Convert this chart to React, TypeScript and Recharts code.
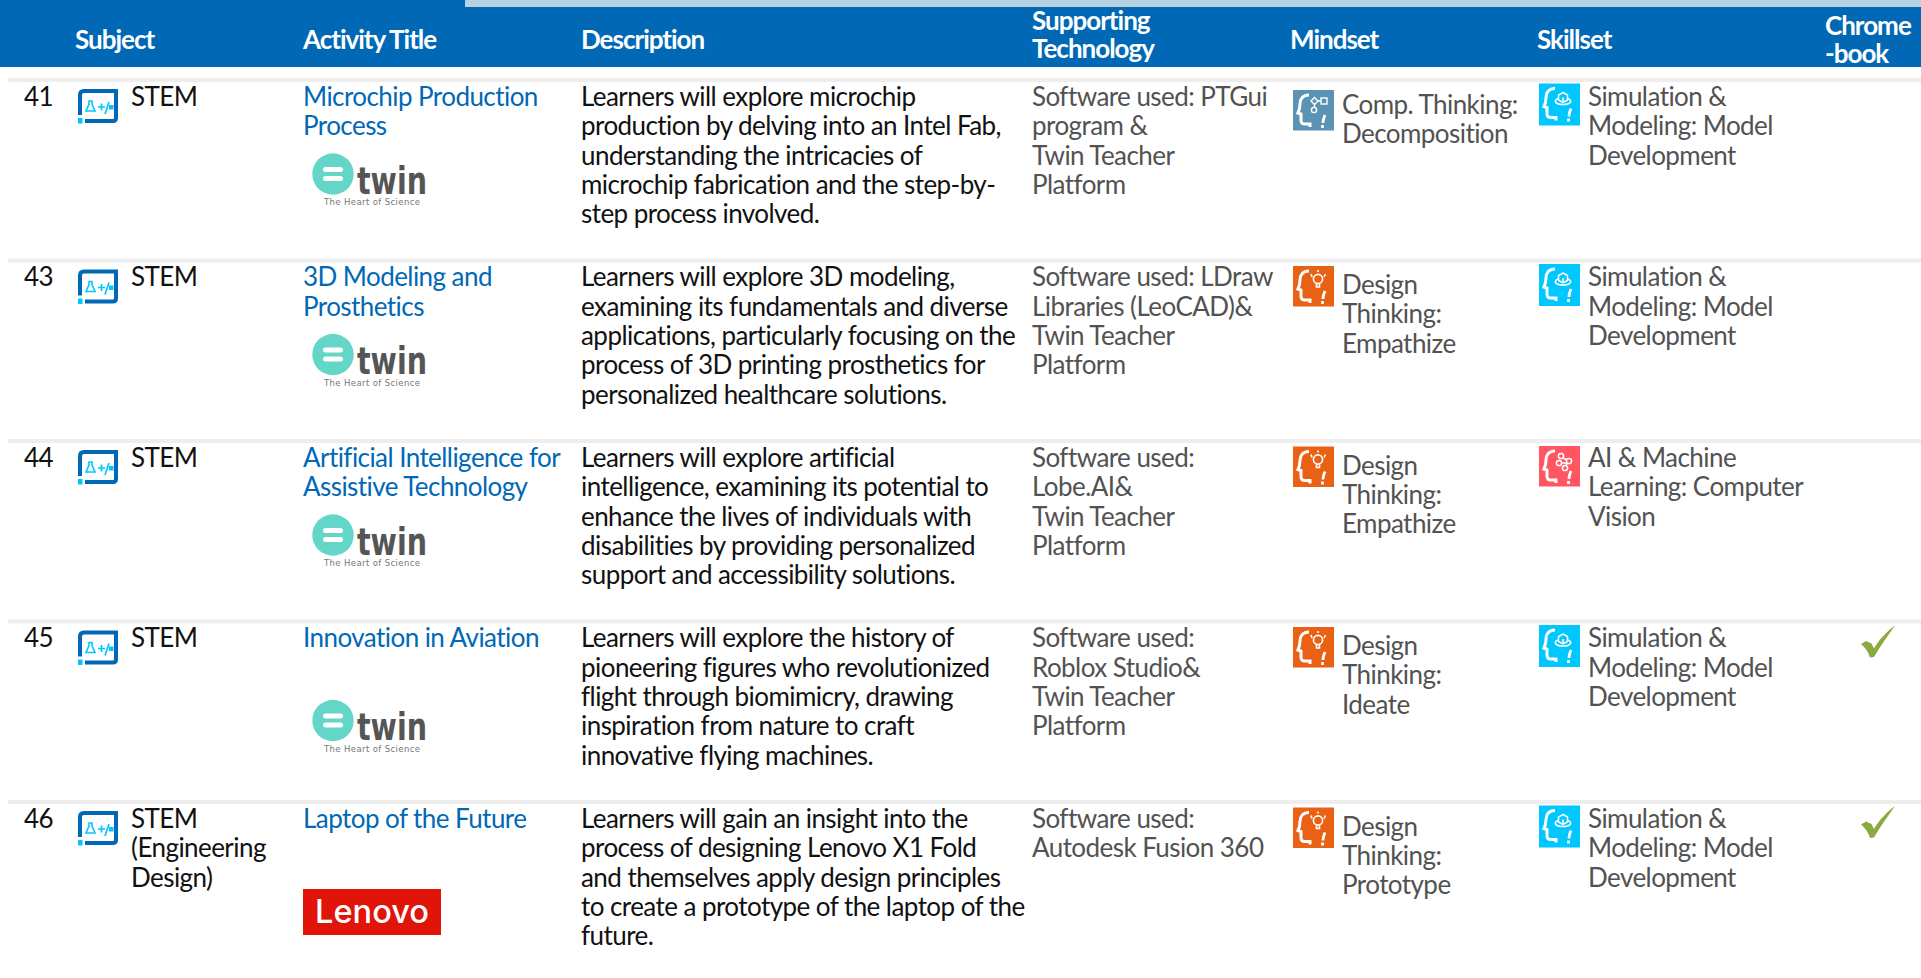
import React from "react";
import { ScatterChart, Scatter, XAxis, YAxis, ReferenceArea, ReferenceLine } from "recharts";

// ---------- data ----------
const rowIds = ["41", "43", "44", "45", "46"];
const subjects = [["STEM"], ["STEM"], ["STEM"], ["STEM"], ["STEM", "(Engineering", "Design)"]];
const titles = [
  ["Microchip Production", "Process"],
  ["3D Modeling and", "Prosthetics"],
  ["Artificial Intelligence for", "Assistive Technology"],
  ["Innovation in Aviation"],
  ["Laptop of the Future"],
];
const partners = ["twin", "twin", "twin", "twin", "lenovo"];
const descriptions = [
  ["Learners will explore microchip", "production by delving into an Intel Fab,", "understanding the intricacies of", "microchip fabrication and the step-by-", "step process involved."],
  ["Learners will explore 3D modeling,", "examining its fundamentals and diverse", "applications, particularly focusing on the", "process of 3D printing prosthetics for", "personalized healthcare solutions."],
  ["Learners will explore artificial", "intelligence, examining its potential to", "enhance the lives of individuals with", "disabilities by providing personalized", "support and accessibility solutions."],
  ["Learners will explore the history of", "pioneering figures who revolutionized", "flight through biomimicry, drawing", "inspiration from nature to craft", "innovative flying machines."],
  ["Learners will gain an insight into the", "process of designing Lenovo X1 Fold", "and themselves apply design principles", "to create a prototype of the laptop of the", "future."],
];
const technology = [
  ["Software used: PTGui", "program &", "Twin Teacher", "Platform"],
  ["Software used: LDraw", "Libraries (LeoCAD)&", "Twin Teacher", "Platform"],
  ["Software used:", "Lobe.AI&", "Twin Teacher", "Platform"],
  ["Software used:", "Roblox Studio&", "Twin Teacher", "Platform"],
  ["Software used:", "Autodesk Fusion 360"],
];
const mindsets = [
  ["Comp. Thinking:", "Decomposition"],
  ["Design", "Thinking:", "Empathize"],
  ["Design", "Thinking:", "Empathize"],
  ["Design", "Thinking:", "Ideate"],
  ["Design", "Thinking:", "Prototype"],
];
const mindsetKinds = ["comp", "design", "design", "design", "design"];
const skillsets = [
  ["Simulation &", "Modeling: Model", "Development"],
  ["Simulation &", "Modeling: Model", "Development"],
  ["AI & Machine", "Learning: Computer", "Vision"],
  ["Simulation &", "Modeling: Model", "Development"],
  ["Simulation &", "Modeling: Model", "Development"],
];
const skillKinds = ["sim", "sim", "ai", "sim", "sim"];
const chromebook = [false, false, false, true, true];
const headerLabels = [
  ["Subject"], ["Activity Title"], ["Description"], ["Supporting", "Technology"], ["Mindset"], ["Skillset"], ["Chrome", "-book"],
];

// ---------- layout ----------
const W = 1921;
const H = 978;
const FONT = "Lato, 'Open Sans', sans-serif";
const PITCH = 180.5;
const TOP = 80;
const yMin = -TOP / PITCH;
const yMax = (H - TOP) / PITCH;
const px = (v: number) => v / PITCH;
const LH = 29.4;
const FS = 26;
const LS = -0.56;
const DY = 25.7;
const BLUE = "#0068b5";
const GREY = "#525252";
const INK = "#111111";

const X = { id: 24, stem: 78, subject: 131, title: 303, desc: 581, tech: 1032, mindIcon: 1293, mind: 1342, skillIcon: 1539, skill: 1588, check: 1861, logo: 303 };
const headerX = [75, 303, 581, 1032, 1290, 1537, 1825];
const headerBase = [49, 49, 49, 30, 49, 49, 35];

const rows = rowIds.map((id, i) => ({ row: i, id }));

const Lines = ({ x, y, lines, fill, size = FS, weight = 400, lh = LH, ls = LS }: any) => (
  <text x={x} y={y} fill={fill} fontFamily={FONT} fontSize={size} fontWeight={weight} letterSpacing={ls}>
    {lines.map((l: string, i: number) => (
      <tspan key={i} x={x} y={y + i * lh}>{l}</tspan>
    ))}
  </text>
);

const StemIcon = ({ x, y }: any) => (
  <g>
    <path d={`M${x + 2} ${y + 26}V${y + 6}q0-4 4-4H${x + 38}V${y + 29}q0 3-3 3H${x + 7}`} fill="none" stroke={BLUE} strokeWidth={4} />
    <rect x={x} y={y + 29} width={4.5} height={5.5} fill="#00c7fd" />
    <path d={`M${x + 11} ${y + 12}h3v3l3 7h-9l3-7z`} fill="none" stroke="#00c7fd" strokeWidth={1.6} />
    <path d={`M${x + 20} ${y + 18}h7M${x + 23.5} ${y + 14.5}v7M${x + 27} ${y + 25}l4-12`} stroke="#00c7fd" strokeWidth={1.7} fill="none" />
    <rect x={x + 31} y={y + 16} width={4.5} height={4.5} fill="#00c7fd" />
  </g>
);

const HeadIcon = ({ x, y, w, h, color, kind }: any) => (
  <g>
    <rect x={x} y={y} width={w} height={h} fill={color} />
    <path
      d={`M${x + 16} ${y + 5}c-6 0-9 4-9 9 0 3 0 5-2 9l3 1 0 6c0 3 1 4 4 4h5v3`}
      fill="none" stroke="#fff" strokeWidth={3}
    />
    <path d={`M${x + 32} ${y + 25}c-1 3-2 4-2 8M${x + 29.5} ${y + 35}v3`} stroke="#fff" strokeWidth={2.8} fill="none" />
    {kind === "comp" && (
      <g fill="none" stroke="#fff" strokeWidth={1.4}>
        <path d={`M${x + 18} ${y + 11}l3.5-3.5 3.5 3.5-3.5 3.5z`} />
        <rect x={x + 28} y={y + 8} width={6} height={6} />
        <circle cx={x + 21} cy={y + 20} r={2.6} />
        <path d={`M${x + 25} ${y + 11}h3M${x + 21.5} ${y + 14.5}v3`} />
      </g>
    )}
    {kind === "design" && (
      <g fill="none" stroke="#fff" strokeWidth={1.6}>
        <circle cx={x + 25} cy={y + 13} r={4.6} />
        <path d={`M${x + 23.5} ${y + 18}v3h3v-3M${x + 18} ${y + 8}l1 3M${x + 32.5} ${y + 8}l-1.5 3M${x + 25} ${y + 4}v2`} />
      </g>
    )}
    {kind === "sim" && (
      <g fill="none" stroke="#fff" strokeWidth={1.5}>
        <path d={`M${x + 24} ${y + 9}l4.5 2.5v5l-4.5 2.5-4.5-2.5v-5z`} />
        <path d={`M${x + 24} ${y + 14}v5M${x + 19} ${y + 15}c-5 2-3 6 5 6s10-4 5-6`} />
      </g>
    )}
    {kind === "ai" && (
      <g fill="none" stroke="#fff" strokeWidth={1.5}>
        <circle cx={x + 22} cy={y + 10} r={2.6} />
        <circle cx={x + 30} cy={y + 15} r={2.6} />
        <circle cx={x + 20} cy={y + 17} r={2.6} />
        <circle cx={x + 26} cy={y + 22} r={2.6} />
        <path d={`M${x + 24} ${y + 12}l4 2M${x + 22.5} ${y + 17}h5M${x + 28} ${y + 17}l-1 3`} />
      </g>
    )}
  </g>
);

const mindColors: any = { comp: "#5b93b5", design: "#e96115" };
const skillColors: any = { sim: "#00c7fd", ai: "#ff5662" };

const TwinLogo = ({ x, y }: any) => (
  <g>
    <circle cx={x + 30} cy={y} r={20.7} fill="#63d6c8" />
    <rect x={x + 20} y={y - 7} width={20} height={5} rx={2.5} fill="#fff" />
    <rect x={x + 20} y={y + 2} width={20} height={5} rx={2.5} fill="#fff" />
    <text x={x + 54} y={y + 19.5} fontFamily="'DejaVu Sans', sans-serif" fontWeight={700} fontSize={37} fill="#555" textLength={70} lengthAdjust="spacingAndGlyphs">twin</text>
    <text x={x + 21} y={y + 31} fontFamily="'DejaVu Sans', sans-serif" fontSize={8.5} fill="#777" textLength={96} lengthAdjust="spacing">The Heart of Science</text>
  </g>
);

const LenovoLogo = ({ x, y }: any) => (
  <g>
    <rect x={x} y={y} width={138} height={46} fill="#e1140a" />
    <text x={x + 69} y={y + 34} textAnchor="middle" fontFamily="Inter, sans-serif" fontWeight={500} fontSize={33} fill="#fff" textLength={114} lengthAdjust="spacingAndGlyphs">Lenovo</text>
  </g>
);

const colData = (x: number) => rows.map((r) => ({ ...r, col: x }));

const textShape = (get: (i: number) => string[], fill: string, dy: number) => (p: any) => (
  <Lines x={p.cx} y={p.cy + dy} lines={get(p.payload.row)} fill={fill} />
);

const headerRows = headerLabels.map((lines, i) => ({ col: headerX[i], row: px(headerBase[i] - TOP), lines }));

export default function App() {
  return (
    <div style={{ position: "absolute", left: 0, top: 0, width: W, height: H, background: "#fff" }}>
      <ScatterChart width={W} height={H} margin={{ top: 0, right: 0, bottom: 0, left: 0 }}>
        <XAxis type="number" dataKey="col" domain={[0, W]} hide allowDataOverflow />
        <YAxis type="number" dataKey="row" domain={[yMin, yMax]} reversed hide allowDataOverflow width={0} />
        <ReferenceArea x1={0} x2={W} y1={yMin} y2={yMin + px(67)} fill={BLUE} fillOpacity={1} stroke="none" />
        <ReferenceArea x1={465} x2={W} y1={yMin} y2={yMin + px(7)} fill="#b7d3e3" fillOpacity={1} stroke="none" />
        {rowIds.map((id, i) => (
          <ReferenceLine key={id} segment={[{ x: 8, y: i }, { x: W, y: i }]} stroke="#eeeeee" strokeWidth={4} />
        ))}
        <Scatter data={headerRows} isAnimationActive={false}
          shape={(p: any) => <Lines x={p.cx} y={p.cy} lines={p.payload.lines} fill="#fff" weight={700} lh={28} ls={-1} />} />
        <Scatter data={colData(X.id)} isAnimationActive={false} shape={textShape((i) => [rowIds[i]], INK, DY)} />
        <Scatter data={colData(X.stem)} isAnimationActive={false} shape={(p: any) => <StemIcon x={p.cx} y={p.cy + 9} />} />
        <Scatter data={colData(X.subject)} isAnimationActive={false} shape={textShape((i) => subjects[i], INK, DY)} />
        <Scatter data={colData(X.title)} isAnimationActive={false} shape={textShape((i) => titles[i], BLUE, DY)} />
        <Scatter data={colData(X.logo)} isAnimationActive={false}
          shape={(p: any) => {
            const r = p.payload.row;
            if (partners[r] === "lenovo") return <LenovoLogo x={p.cx} y={p.cy + 87} />;
            return <TwinLogo x={p.cx} y={p.cy + (r === 3 ? 99 : 94)} />;
          }} />
        <Scatter data={colData(X.desc)} isAnimationActive={false} shape={textShape((i) => descriptions[i], INK, DY)} />
        <Scatter data={colData(X.tech)} isAnimationActive={false} shape={textShape((i) => technology[i], GREY, DY)} />
        <Scatter data={colData(X.mindIcon)} isAnimationActive={false}
          shape={(p: any) => {
            const k = mindsetKinds[p.payload.row];
            return <HeadIcon x={p.cx} y={p.cy + (k === "comp" ? 10 : 5.5)} w={41} h={40.5} color={mindColors[k]} kind={k} />;
          }} />
        <Scatter data={colData(X.mind)} isAnimationActive={false}
          shape={(p: any) => <Lines x={p.cx} y={p.cy + 33.5} lines={mindsets[p.payload.row]} fill={GREY} />} />
        <Scatter data={colData(X.skillIcon)} isAnimationActive={false}
          shape={(p: any) => {
            const k = skillKinds[p.payload.row];
            return <HeadIcon x={p.cx} y={p.cy + (k === "ai" ? 5 : 3.5)} w={41} h={k === "ai" ? 40.5 : 42} color={skillColors[k]} kind={k} />;
          }} />
        <Scatter data={colData(X.skill)} isAnimationActive={false} shape={textShape((i) => skillsets[i], GREY, DY)} />
        <Scatter data={colData(X.check).filter((r) => chromebook[r.row])} isAnimationActive={false}
          shape={(p: any) => (
            <path transform={`translate(${p.cx} ${p.cy})`} d="M0 22.5L5 19.5L10.5 22L13 27C18 18 26 10 34 4C27 14 19 25 13 35.5L9 36C7 30 4 26 0 22.5Z" fill="#8aab3f" />
          )} />
      </ScatterChart>
    </div>
  );
}
